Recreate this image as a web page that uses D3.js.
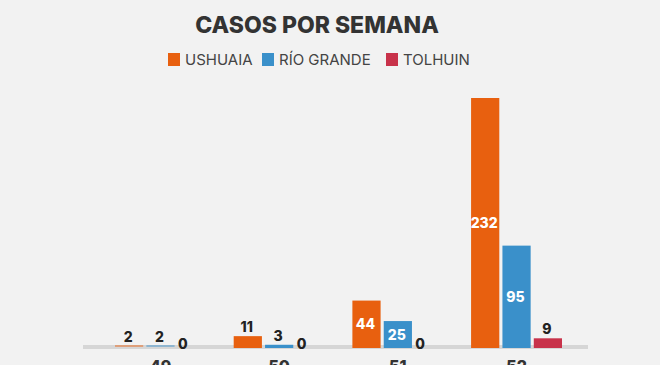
<!DOCTYPE html>
<html><head><meta charset="utf-8">
<script src="https://cdn.jsdelivr.net/npm/d3@7"></script>
<style>
html,body{margin:0;padding:0;background:#f2f2f2;}
svg{display:block;font-family:Inter,"Noto Sans",sans-serif;}
</style></head>
<body>
<svg id="chart" width="660" height="365"></svg>
<script>
const weeks = ["49", "50", "51", "52"];
const seriesNames = ["USHUAIA", "RÍO GRANDE", "TOLHUIN"];
const ushuaia = [2, 11, 44, 232];
const rioGrande = [2, 3, 25, 95];
const tolhuin = [0, 0, 0, 9];
const colors = ["#e8600f", "#3a90ca", "#c8324a"];
const title = "CASOS POR SEMANA";

const seriesValues = [ushuaia, rioGrande, tolhuin];
const svg = d3.select("#chart");

const x0 = d3.scaleBand().domain(weeks).range([115, 562]).paddingInner(0.234).paddingOuter(0);
const x1 = d3.scaleBand().domain(seriesNames).range([0, x0.bandwidth()]).paddingInner(0.1);
const y = d3.scaleLinear().domain([0, 232]).range([348, 98]);
const color = d3.scaleOrdinal().domain(seriesNames).range(colors);

svg.append("text").attr("x", 317).attr("y", 33).attr("text-anchor", "middle")
  .attr("font-size", 23).attr("font-weight", 800).attr("fill", "#333").text(title);

// legend
const legendX = [168, 262, 386];
const lg = svg.append("g");
seriesNames.forEach((s, i) => {
  const g = lg.append("g").attr("transform", `translate(${legendX[i]},53)`);
  g.append("rect").attr("width", 12).attr("height", 13).attr("fill", colors[i]);
  g.append("text").attr("x", 17).attr("y", 12).attr("font-size", 15).attr("fill", "#444").text(s);
});

// axis baseline
svg.append("line").attr("x1", 83).attr("x2", 588).attr("y1", 347).attr("y2", 347)
  .attr("stroke", "#d6d6d6").attr("stroke-width", 4);

const data = [];
weeks.forEach((w, wi) => seriesNames.forEach((s, si) => data.push({week: w, series: s, value: seriesValues[si][wi]})));

const bars = svg.append("g");
bars.selectAll("rect").data(data.filter(d => d.value > 0)).join("rect")
  .attr("x", d => x0(d.week) + x1(d.series))
  .attr("y", d => y(d.value) - (d.value < 3 ? 0.5 : 0))
  .attr("width", x1.bandwidth())
  .attr("height", d => Math.max(1, y(0) - y(d.value)) * (d.value < 3 ? 0.6 : 1))
  .attr("fill", d => color(d.series))
  .attr("opacity", d => d.value < 3 ? 0.7 : 1);

const inside = d => (y(0) - y(d.value)) > 20;
svg.append("g").selectAll("text").data(data).join("text")
  .attr("x", d => x0(d.week) + x1(d.series) + x1.bandwidth() / 2 - (d.value === 0 ? 9 : 1))
  .attr("y", d => inside(d) ? (y(d.value) + y(0)) / 2 + 5 : (d.value === 0 ? y(0) + 1 : y(d.value) - 4))
  .attr("text-anchor", "middle")
  .attr("font-size", 14).attr("font-weight", 800)
  .attr("fill", d => inside(d) ? "#fff" : "#222")
  .text(d => d.value);

// x axis tick labels
const xAxis = d3.axisBottom(x0).tickSize(0).tickPadding(0);
const ax = svg.append("g").attr("transform", "translate(0,360)").call(xAxis);
ax.select(".domain").remove();
ax.selectAll("text").attr("font-size", 16).attr("font-weight", 800).attr("fill", "#333")
  .attr("font-family", "Inter, 'Noto Sans', sans-serif").attr("dy", "0.75em");
</script>
</body></html>
